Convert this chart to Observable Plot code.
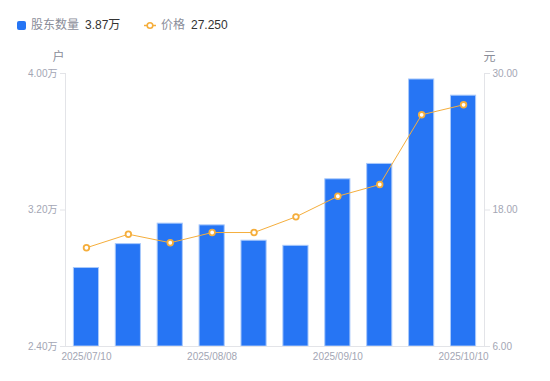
<!DOCTYPE html>
<html>
<head>
<meta charset="utf-8">
<script src="https://cdn.jsdelivr.net/npm/d3@7"></script>
<script src="https://cdn.jsdelivr.net/npm/@observablehq/plot@0.6"></script>
<style>
  html, body { margin: 0; padding: 0; background: #fff; }
  body { width: 550px; height: 381px; overflow: hidden; font-family: "Liberation Sans", "Noto Sans CJK SC", sans-serif; }
  #legend { height: 40px; position: relative; font-size: 12px; }
  .item { position: absolute; top: 18px; display: flex; align-items: center; white-space: nowrap; line-height: 14px; }
  .lab { color: #8a8d99; margin-right: 6px; }
  .val { color: #333; }
</style>
</head>
<body>
<div id="legend">
  <div class="item" style="left:17px">
    <span style="display:inline-block;width:9px;height:9px;background:#2675F4;border-radius:2px;margin-right:5px"></span>
    <span class="lab">股东数量</span><span class="val">3.87万</span>
  </div>
  <div class="item" style="left:144px">
    <svg width="12" height="9" style="margin-right:5px"><line x1="0" y1="4.5" x2="12" y2="4.5" stroke="#F5AE3C" stroke-width="1.5"/><circle cx="6" cy="4.5" r="2.8" fill="#fff" stroke="#F5AE3C" stroke-width="1.6"/></svg>
    <span class="lab">价格</span><span class="val">27.250</span>
  </div>
</div>
<div id="chart"></div>
<script>
const dates = ["2025/07/10","2025/07/18","2025/07/31","2025/08/08","2025/08/20","2025/08/29","2025/09/10","2025/09/19","2025/09/30","2025/10/10"];
const holders = [2.86, 3.00, 3.12, 3.11, 3.02, 2.99, 3.38, 3.47, 3.965, 3.87]; // 万户
const prices = [14.68, 15.87, 15.12, 16.02, 16.02, 17.40, 19.21, 20.24, 26.37, 27.25]; // 元
const leftTicks = [2.40, 3.20, 4.00];
const rightTicks = [6.00, 18.00, 30.00];
const shownDates = ["2025/07/10","2025/08/08","2025/09/10","2025/10/10"];

const yDom = [2.4, 4.0];
const pDom = [6, 30];
const toLeft = p => yDom[0] + (p - pDom[0]) / (pDom[1] - pDom[0]) * (yDom[1] - yDom[0]);
const toRight = v => pDom[0] + (v - yDom[0]) / (yDom[1] - yDom[0]) * (pDom[1] - pDom[0]);

const data = dates.map((d, i) => ({date: d, holders: holders[i], price: prices[i], pl: toLeft(prices[i])}));

const axisColor = "#e3e4e8";
const textColor = "#a3a6b4";

const chart = Plot.plot({
  width: 550,
  height: 341,
  marginTop: 33,
  marginBottom: 35,
  marginLeft: 65,
  marginRight: 66,
  style: {fontFamily: '"Liberation Sans", "Noto Sans CJK SC", sans-serif', fontSize: "10px", background: "#fff", overflow: "visible"},
  x: {type: "band", domain: dates, paddingInner: 0.4, paddingOuter: 0.2, round: false, axis: null},
  y: {domain: yDom, axis: null},
  marks: [
    Plot.barY(data, {x: "date", y1: yDom[0], y2: "holders", fill: "#2675F4", stroke: "#a9c9fb", strokeWidth: 1}),
    Plot.ruleY([yDom[0]], {stroke: axisColor, strokeWidth: 1}),
    Plot.axisY(leftTicks, {anchor: "left", tickSize: 5, tickPadding: 3, stroke: axisColor, fill: textColor, tickFormat: d => d.toFixed(2) + "万", label: null}),
    Plot.axisY(leftTicks, {anchor: "right", tickSize: 5, tickPadding: 3, stroke: axisColor, fill: textColor, tickFormat: d => toRight(d).toFixed(2), label: null}),
    Plot.axisX(shownDates, {anchor: "bottom", tickSize: 0, tickPadding: 6, fill: textColor, label: null}),
    Plot.frame({anchor: "left", stroke: axisColor}),
    Plot.frame({anchor: "right", stroke: axisColor}),
    Plot.lineY(data, {x: "date", y: "pl", stroke: "#F5AE3C", strokeWidth: 1}),
    Plot.dot(data, {x: "date", y: "pl", r: 2.8, fill: "#fff", stroke: "#F5AE3C", strokeWidth: 1.8}),
    Plot.text(["户"], {frameAnchor: "top-left", textAnchor: "middle", lineAnchor: "middle", dx: -7, dy: -16, fill: "#8a8d99", fontSize: 12}),
    Plot.text(["元"], {frameAnchor: "top-right", textAnchor: "middle", lineAnchor: "middle", dx: 5, dy: -16, fill: "#8a8d99", fontSize: 12})
  ]
});
document.getElementById("chart").appendChild(chart);
</script>
</body>
</html>
